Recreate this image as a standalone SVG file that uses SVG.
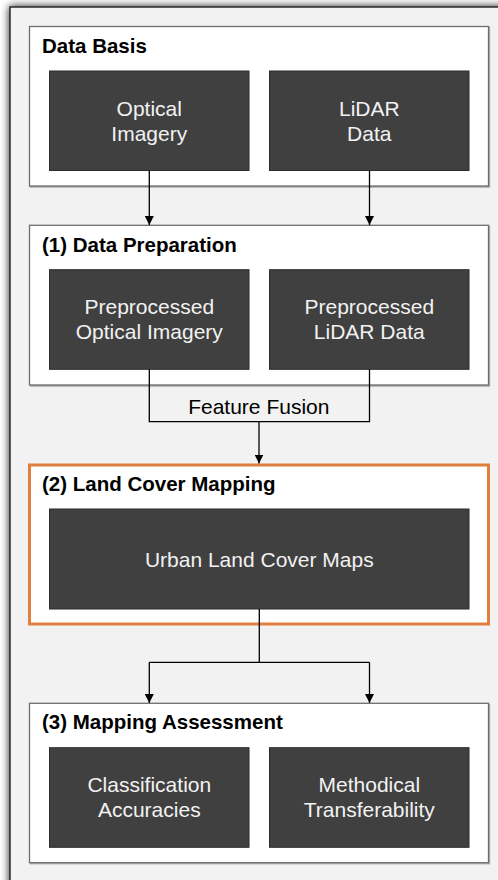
<svg xmlns="http://www.w3.org/2000/svg" width="498" height="880" viewBox="0 0 498 880">
  <defs>
    <filter id="panelShadow" x="-10%" y="-10%" width="120%" height="120%">
      <feGaussianBlur in="SourceAlpha" stdDeviation="4"/>
      <feComponentTransfer><feFuncA type="linear" slope="0.9"/></feComponentTransfer>
      <feMerge><feMergeNode/><feMergeNode in="SourceGraphic"/></feMerge>
    </filter>
    <filter id="boxShadow" x="-5%" y="-5%" width="110%" height="110%">
      <feDropShadow dx="1" dy="1" stdDeviation="0.6" flood-color="#000" flood-opacity="0.35"/>
    </filter>
    <marker id="arrow" viewBox="0 0 10 10" refX="10" refY="5" markerWidth="9" markerHeight="9" markerUnits="userSpaceOnUse" orient="auto">
      <path d="M0,0 L10,5 L0,10 z" fill="#000"/>
    </marker>
    <style>
      .group { fill: #ffffff; stroke: #6e6e6e; stroke-width: 1.3; }
      .hl { fill: #ffffff; stroke: #e07f3f; stroke-width: 3; }
      .node { fill: #404040; stroke: #2b2b2b; stroke-width: 1; }
      .title { font-family: "Liberation Sans", Arial, sans-serif; font-size: 20.5px; font-weight: bold; fill: #000; }
      .label { font-family: "Liberation Sans", Arial, sans-serif; font-size: 21px; fill: #f2f2f2; text-anchor: middle; }
      .edgeLabel { font-family: "Liberation Sans", Arial, sans-serif; font-size: 21px; fill: #000; text-anchor: middle; }
      .edge { fill: none; stroke: #000; stroke-width: 1.3; }
    </style>
  </defs>

  <rect x="0" y="0" width="498" height="880" fill="#ffffff"/>
  <rect x="10" y="7" width="510" height="900" fill="#f2f2f2" stroke="#2a2a2a" stroke-width="1.5" filter="url(#panelShadow)"/>

  <g id="data-basis">
    <rect class="group" x="29.5" y="26.5" width="459" height="159.5" filter="url(#boxShadow)"/>
    <text class="title" x="42" y="53">Data Basis</text>
  </g>
  <g id="optical-imagery">
    <rect class="node" x="49.5" y="71" width="199.5" height="99.5"/>
    <text class="label" x="149.3" y="115.5">Optical</text>
    <text class="label" x="149.3" y="140.5">Imagery</text>
  </g>
  <g id="lidar-data">
    <rect class="node" x="269.5" y="71" width="199.5" height="99.5"/>
    <text class="label" x="369.3" y="115.5">LiDAR</text>
    <text class="label" x="369.3" y="140.5">Data</text>
  </g>

  <g id="data-preparation">
    <rect class="group" x="29.5" y="225.3" width="459" height="159.7" filter="url(#boxShadow)"/>
    <text class="title" x="42" y="251.7">(1) Data Preparation</text>
  </g>
  <g id="preprocessed-optical">
    <rect class="node" x="49.5" y="269.7" width="199.5" height="99.6"/>
    <text class="label" x="149.3" y="314">Preprocessed</text>
    <text class="label" x="149.3" y="339">Optical Imagery</text>
  </g>
  <g id="preprocessed-lidar">
    <rect class="node" x="269.5" y="269.7" width="199.5" height="99.6"/>
    <text class="label" x="369.3" y="314">Preprocessed</text>
    <text class="label" x="369.3" y="339">LiDAR Data</text>
  </g>

  <g id="land-cover-mapping">
    <rect class="hl" x="29.5" y="465" width="459" height="159"/>
    <text class="title" x="42" y="490.7">(2) Land Cover Mapping</text>
  </g>
  <g id="urban-land-cover-maps">
    <rect class="node" x="49.5" y="509" width="419.5" height="100"/>
    <text class="label" x="259.3" y="566.5">Urban Land Cover Maps</text>
  </g>

  <g id="mapping-assessment">
    <rect class="group" x="29.5" y="703.3" width="459" height="159.4" filter="url(#boxShadow)"/>
    <text class="title" x="42" y="729.3">(3) Mapping Assessment</text>
  </g>
  <g id="classification-accuracies">
    <rect class="node" x="49.5" y="747.7" width="199.5" height="99.6"/>
    <text class="label" x="149.3" y="791.7">Classification</text>
    <text class="label" x="149.3" y="816.7">Accuracies</text>
  </g>
  <g id="methodical-transferability">
    <rect class="node" x="269.5" y="747.7" width="199.5" height="99.6"/>
    <text class="label" x="369.3" y="791.7">Methodical</text>
    <text class="label" x="369.3" y="816.7">Transferability</text>
  </g>

  <g id="connectors">
    <line class="edge" x1="149.3" y1="170.5" x2="149.3" y2="225" marker-end="url(#arrow)"/>
    <line class="edge" x1="369.5" y1="170.5" x2="369.5" y2="225" marker-end="url(#arrow)"/>
    <polyline class="edge" points="149.3,369.3 149.3,421.7 369.5,421.7 369.5,369.3"/>
    <text class="edgeLabel" x="258.8" y="414.3">Feature Fusion</text>
    <line class="edge" x1="259" y1="421.7" x2="259" y2="463.5" stroke="#555" marker-end="url(#arrow)"/>
    <line class="edge" x1="259.3" y1="609" x2="259.3" y2="662.3"/>
    <line class="edge" x1="149.3" y1="662.3" x2="369.5" y2="662.3"/>
    <line class="edge" x1="149.3" y1="662.3" x2="149.3" y2="703" marker-end="url(#arrow)"/>
    <line class="edge" x1="369.5" y1="662.3" x2="369.5" y2="703" marker-end="url(#arrow)"/>
  </g>
</svg>
